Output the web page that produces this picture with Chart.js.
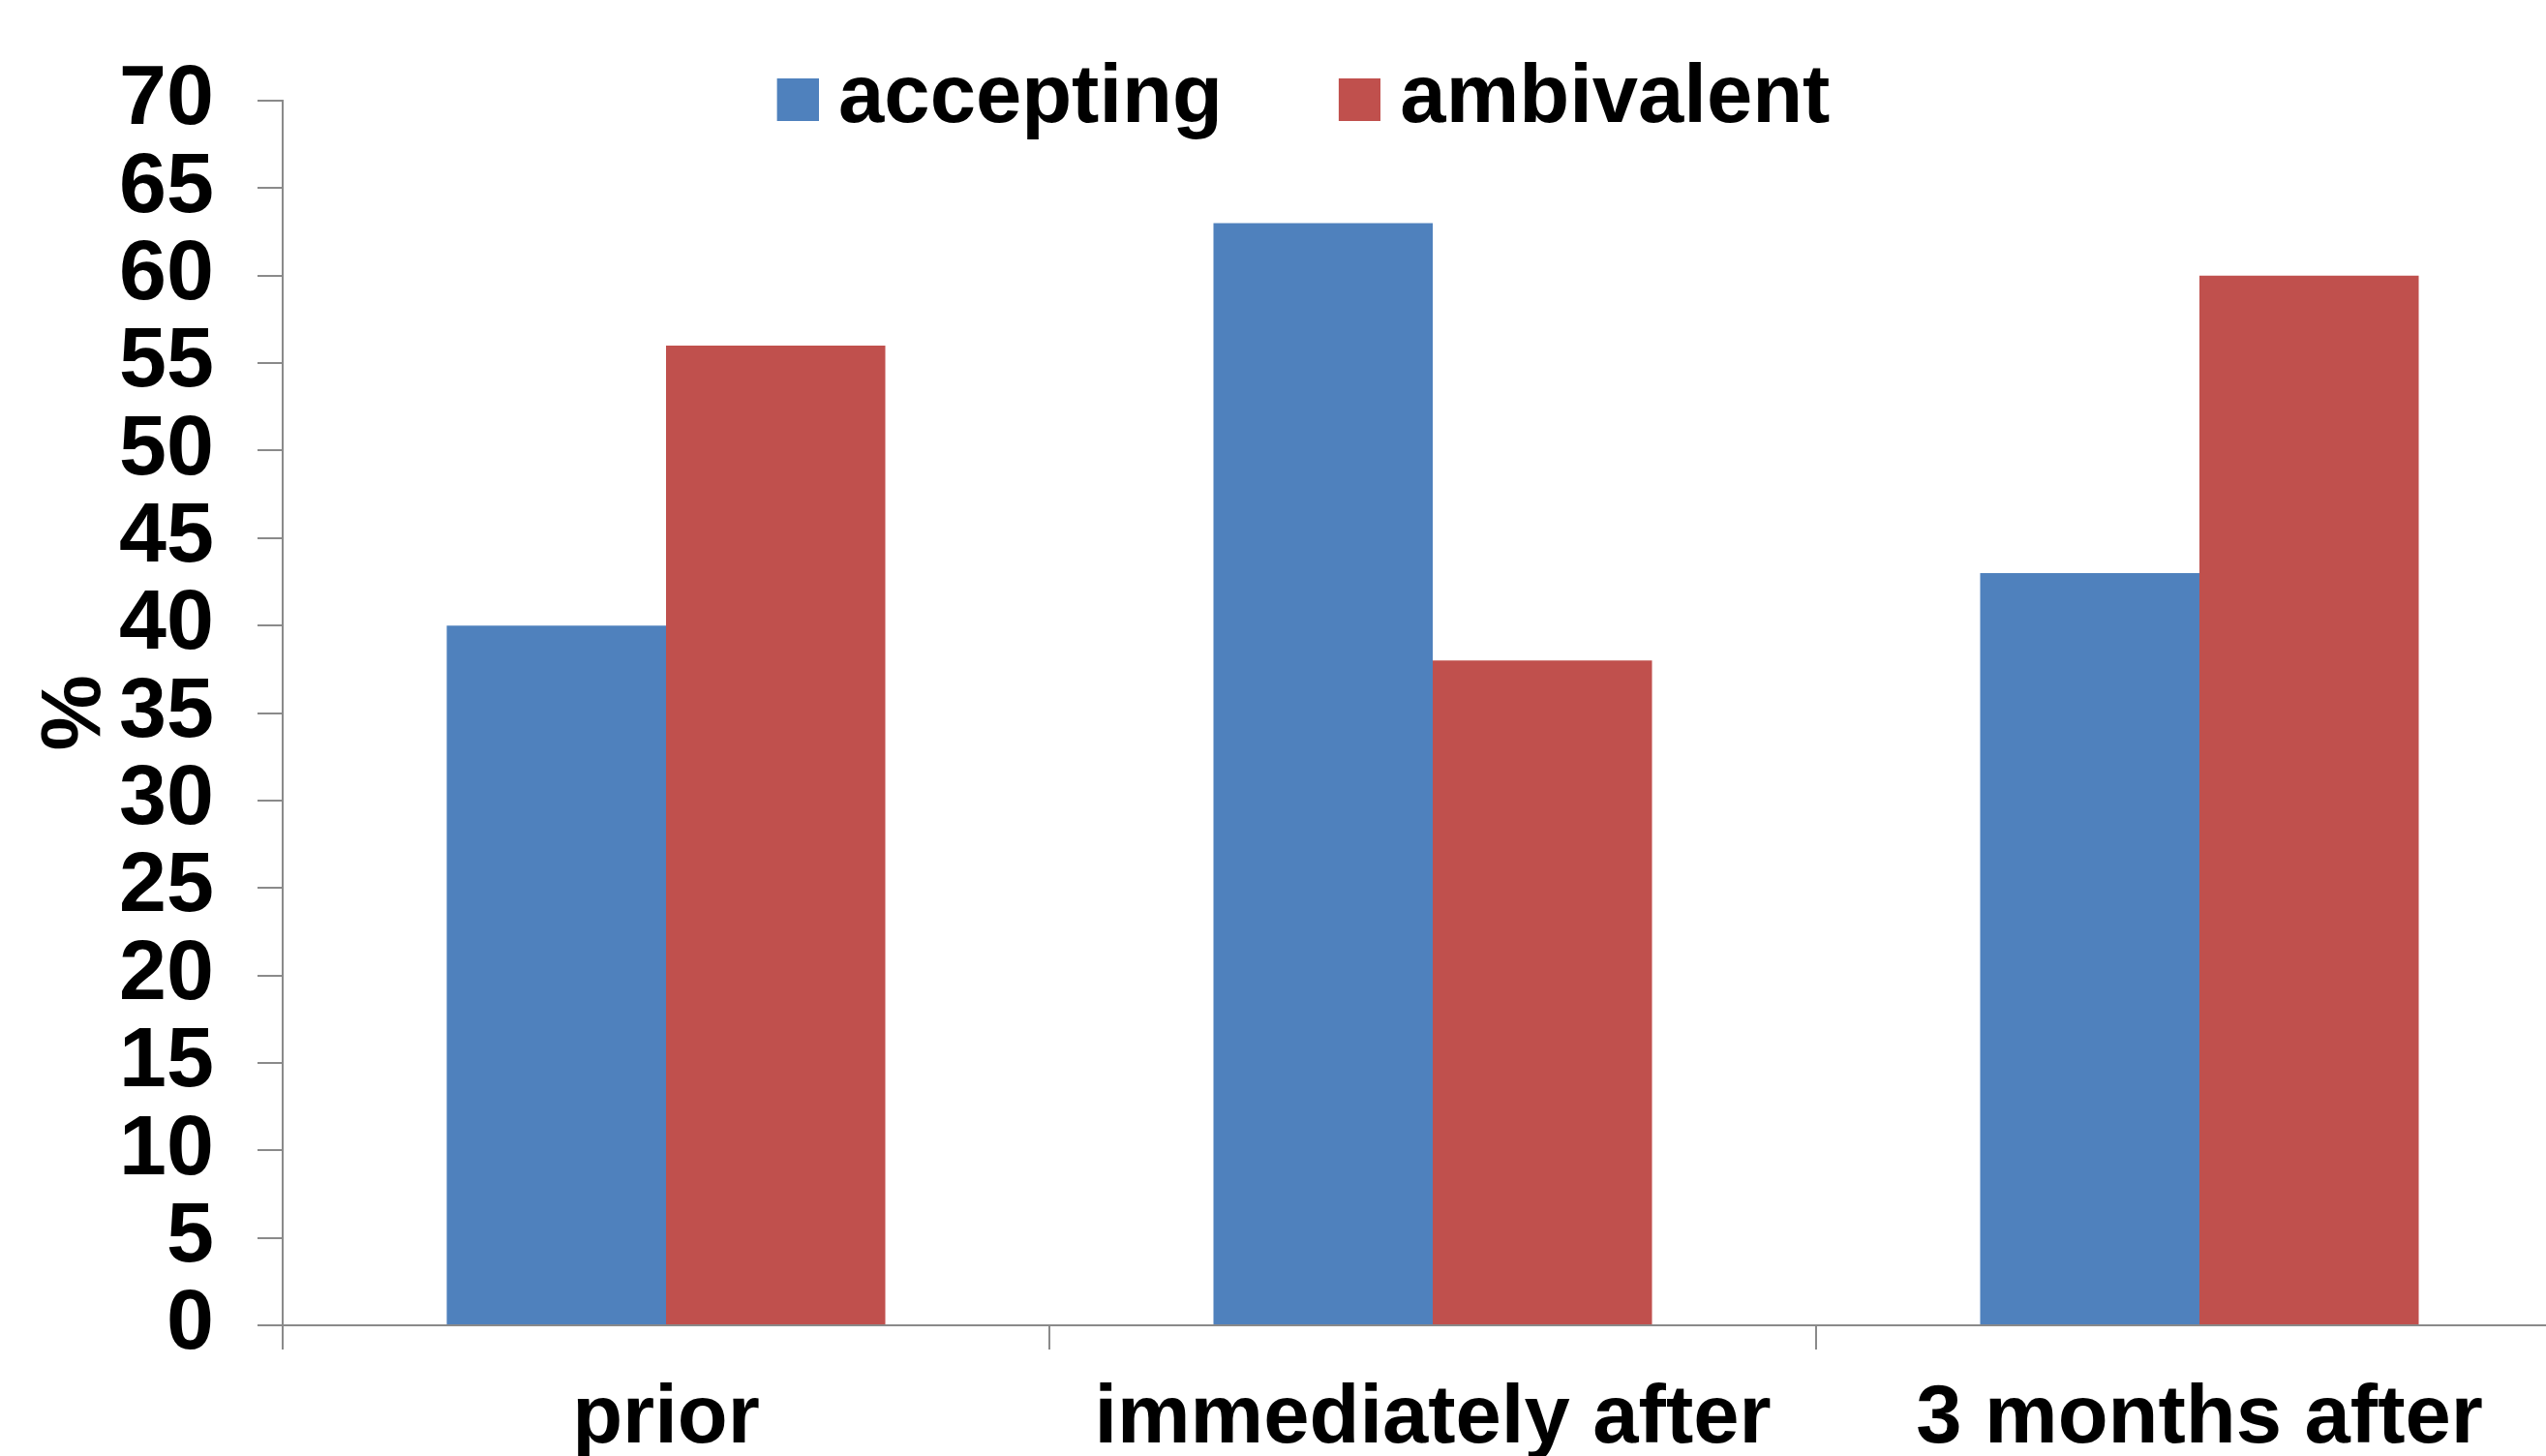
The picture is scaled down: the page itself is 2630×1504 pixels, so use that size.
<!DOCTYPE html>
<html>
<head>
<meta charset="utf-8">
<title>accepting / ambivalent</title>
<script src="https://cdn.jsdelivr.net/npm/chart.js@4.4.1/dist/chart.umd.min.js"></script>
<style>
  html, body { margin: 0; padding: 0; background: #ffffff; overflow: hidden; width: 2630px; height: 1504px; }
  canvas { display: block; }
</style>
</head>
<body>
<canvas id="chart" width="2668" height="1560"></canvas>
<script>
// Survey shares (%) at each time point
const categories = ['prior', 'immediately after', '3 months after'];
const seriesNames = ['accepting', 'ambivalent'];
const acceptingValues = [40, 63, 43];
const ambivalentValues = [56, 38, 60];
const seriesColors = ['#4F81BD', '#C0504D'];
const yMin = 0;
const yMax = 70;
const yStep = 5;
const yTitle = '%';

const FONT = "'Liberation Sans', Arial, sans-serif";
const AXIS_GRAY = '#8a8a8a';

// Legend swatch: a square sitting at the right end of a transparent strip,
// so the gap between swatch and label stays tight.
function makeSwatch(color) {
  const c = document.createElement('canvas');
  c.width = 176;
  c.height = 44;
  const g = c.getContext('2d');
  g.fillStyle = color;
  g.fillRect(133, 0, 43, 44);
  return c;
}
const swatches = seriesColors.map(makeSwatch);

// Legend overlaps the top of the plot; move it after layout.
const legendPlacement = {
  id: 'legendPlacement',
  afterLayout(chart) {
    const lg = chart.legend;
    if (!lg) return;
    const h = lg.bottom - lg.top;
    lg.top = 51;
    lg.bottom = 51 + h;
    lg.left -= 43;
    lg.right -= 43;
  }
};

new Chart(document.getElementById('chart'), {
  type: 'bar',
  data: {
    labels: categories,
    datasets: [
      { label: seriesNames[0], data: acceptingValues, backgroundColor: seriesColors[0], borderWidth: 0 },
      { label: seriesNames[1], data: ambivalentValues, backgroundColor: seriesColors[1], borderWidth: 0 }
    ]
  },
  plugins: [legendPlacement],
  options: {
    responsive: false,
    animation: false,
    devicePixelRatio: 1,
    layout: { padding: 0 },
    datasets: { bar: { categoryPercentage: 0.572, barPercentage: 1 } },
    plugins: {
      tooltip: { enabled: false },
      legend: {
        position: 'top',
        labels: {
          usePointStyle: true,
          pointStyleWidth: 132,
          padding: 9,
          color: '#000000',
          font: { family: FONT, size: 85, weight: 'bold' },
          generateLabels(chart) {
            const items = Chart.defaults.plugins.legend.labels.generateLabels(chart);
            items.forEach((it, i) => { it.pointStyle = swatches[i]; it.lineWidth = 0; });
            return items;
          }
        }
      }
    },
    scales: {
      x: {
        grid: { offset: true, drawOnChartArea: false, tickLength: 25, color: AXIS_GRAY, lineWidth: 2 },
        border: { display: true, color: AXIS_GRAY, width: 2 },
        ticks: {
          color: '#000000',
          font: { family: FONT, size: 85, weight: 'bold' },
          padding: 22,
          maxRotation: 0,
          autoSkip: false
        },
        afterFit(scale) { scale.height = 191; }
      },
      y: {
        min: yMin,
        max: yMax,
        ticks: {
          stepSize: yStep,
          autoSkip: false,
          color: '#000000',
          font: { family: FONT, size: 88, weight: 'bold' },
          padding: 45
        },
        grid: { drawOnChartArea: false, tickLength: 26, color: AXIS_GRAY, lineWidth: 2 },
        border: { display: true, color: AXIS_GRAY, width: 2 },
        title: {
          display: true,
          text: yTitle,
          color: '#000000',
          font: { family: FONT, size: 88, weight: 'bold' },
          padding: { top: 26, bottom: 0 }
        },
        afterFit(scale) { scale.width = 292; }
      }
    }
  }
});
</script>
</body>
</html>
